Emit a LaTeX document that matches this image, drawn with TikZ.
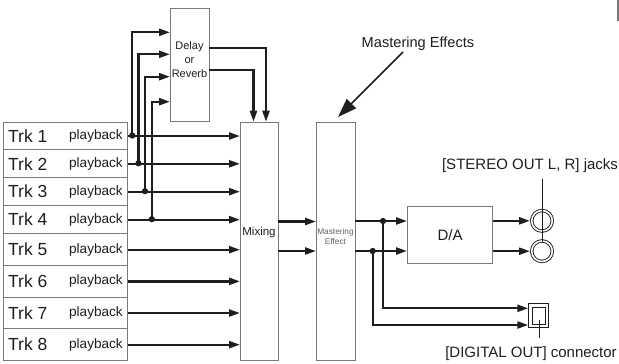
\documentclass[tikz,border=0pt]{standalone}
\usepackage{fontspec}
\setmainfont{Liberation Sans}
\usetikzlibrary{arrows.meta}
\definecolor{boxgray}{HTML}{7A7A7A}
\definecolor{ink}{HTML}{1E1E1E}
\begin{document}
\begin{tikzpicture}[x=1bp,y=-1bp,
  box/.style={draw=boxgray, line width=1bp, inner sep=0pt},
  sig/.style={draw=ink, line width=2.3bp, -{Triangle[length=11bp,width=7bp]}},
  wire/.style={draw=ink, line width=2.3bp},
  dotn/.style={circle, fill=ink, inner sep=0pt, minimum size=6.3bp},
  trk/.style={text=ink, inner sep=0pt, font=\fontsize{17.5bp}{20bp}\selectfont},
  pb/.style={text=ink, inner sep=0pt, font=\fontsize{13.6bp}{16bp}\selectfont},
  lbl/.style={text=ink, inner sep=0pt, font=\fontsize{15bp}{18bp}\selectfont},
  jack/.style={circle, draw=ink, line width=0.9bp, double=white, double distance=1.6bp, minimum size=20.6bp, inner sep=0pt, outer sep=1.7bp},
]
\useasboundingbox (0,0) rectangle (619,363);
% top-right edge mark
\draw[boxgray, line width=1.2bp] (618,0) -- (618,21);

% track rows
\foreach \i/\top/\bot in {1/121.7/149.3, 2/149.3/177.3, 3/177.3/205, 4/205/233.3, 5/233.3/265, 6/265/296.7, 7/296.7/328.3, 8/328.3/360} {
  \pgfmathsetmacro\h{\bot-\top}
  \node[box, minimum width=123.5bp, minimum height=\h bp, anchor=north west] (t\i) at (3,\top) {};
  \node[trk, anchor=west] (tl\i) at ([xshift=5bp]t\i.west) {Trk \i};
  \node[pb, anchor=east] (pb\i) at ([xshift=-4.5bp]t\i.east) {playback};
}

% main boxes
\node[box, minimum width=39bp, minimum height=113.5bp, anchor=north west] (dl) at (170,7.5) {};
\node[text=ink, align=center, inner sep=0pt, font=\fontsize{11bp}{14bp}\selectfont] (dlt) at (189.5,60) {Delay\\or\\Reverb};
\node[box, minimum width=38bp, minimum height=238.3bp, anchor=north west] (mix) at (240,121.7) {};
\node[text=ink, inner sep=0pt, font=\fontsize{11.5bp}{14bp}\selectfont] (mixt) at (259,233) {Mixing};
\node[box, minimum width=39bp, minimum height=238.3bp, anchor=north west] (me) at (316,121.7) {};
\node[text=boxgray!80!black, align=center, inner sep=0pt, font=\fontsize{8.3bp}{10bp}\selectfont] (met) at (335.5,236.5) {Mastering\\Effect};
\node[box, minimum width=85bp, minimum height=57bp, anchor=north west, text=ink, font=\fontsize{15bp}{18bp}\selectfont] (da) at (407,206) {D/A};

% jacks and digital out
\node[jack] (j1) at (542,220.8) {};
\node[jack] (j2) at (542,251.2) {};
\node[draw=ink, line width=0.9bp, double=white, double distance=2.5bp, minimum width=16.7bp, minimum height=20.7bp, inner sep=0pt, outer sep=2.15bp] (dout) at (538.8,315.8) {};

% labels
\node[lbl, font=\fontsize{14.6bp}{18bp}\selectfont] (mel) at (418,44) {Mastering Effects};
\node[lbl] (sol) at (530,166) {[STEREO OUT L, R] jacks};
\node[lbl] (dol) at (531,353.5) {[DIGITAL OUT] connector};

% track -> mixing
\foreach \i in {1,...,8} {
  \draw[sig] (t\i.east) -- (t\i.east -| mix.west);
}

% taps to delay
\node[dotn] (d1) at (132.3,135.5) {};
\node[dotn] (d2) at (138.5,163.3) {};
\node[dotn] (d3) at (145,191.15) {};
\node[dotn] (d4) at (151.8,219.15) {};
\coordinate (i1) at (170,32.3);
\coordinate (i2) at (170,54.3);
\coordinate (i3) at (170,76.7);
\coordinate (i4) at (170,101.7);
\draw[sig] (d1.center) |- (i1);
\draw[sig] (d2.center) |- (i2);
\draw[sig] (d3.center) |- (i3);
\draw[sig] (d4.center) |- (i4);

% delay -> mixing
\coordinate (r1) at (209,47.7);
\coordinate (r2) at (209,70);
\coordinate (k1) at (266,121.7);
\coordinate (k2) at (253.5,121.7);
\draw[sig] (r1) -| (k1);
\draw[sig] (r2) -| (k2);

% mixing -> mastering
\coordinate (m1) at (278,221.5);
\coordinate (m2) at (278,251);
\draw[sig] (m1) -- (m1 -| me.west);
\draw[sig] (m2) -- (m2 -| me.west);

% mastering -> D/A
\coordinate (o1) at (355,221);
\coordinate (o2) at (355,251);
\draw[sig] (o1) -- (o1 -| da.west);
\draw[sig] (o2) -- (o2 -| da.west);
\node[dotn] (p1) at (383,221) {};
\node[dotn] (p2) at (372.7,251) {};
\coordinate (q1) at (528.3,308.3);
\coordinate (q2) at (528.3,325);
\draw[sig] (p1.center) |- (q1);
\draw[sig] (p2.center) |- (q2);

% D/A -> jacks
\draw[sig] (da.east |- j1.west) -- (j1.west);
\draw[sig] (da.east |- j2.west) -- (j2.west);

% label leaders
\coordinate (s1) at (542,179);
\coordinate (s2) at (542,242);
\draw[ink, line width=1bp] (s1) -- (s2);
\coordinate (g1) at (539.3,320);
\coordinate (g2) at (539.3,338);
\draw[ink, line width=1bp] (g1) -- (g2);
\coordinate (a1) at (403,52);
\coordinate (a2) at (338,117);
\draw[ink, line width=1.6bp, -{Triangle[length=19bp,width=13bp]}] (a1) -- (a2);
\end{tikzpicture}
\end{document}
